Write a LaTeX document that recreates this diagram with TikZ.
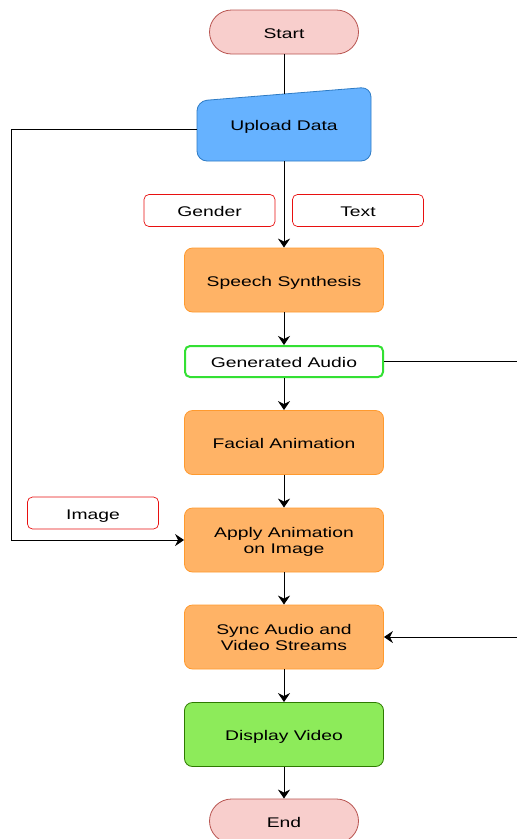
\documentclass[tikz,border=0pt]{standalone}
\usepackage{fontspec}
\setmainfont{Liberation Sans}[FakeStretch=1.38]
\usetikzlibrary{arrows.meta}
\definecolor{termF}{HTML}{F8CECC}
\definecolor{termB}{HTML}{B85450}
\definecolor{upF}{HTML}{66B2FF}
\definecolor{upB}{HTML}{2E7BC4}
\definecolor{orF}{HTML}{FFB366}
\definecolor{orB}{HTML}{FF9A2E}
\definecolor{gnB}{HTML}{33E033}
\definecolor{dvF}{HTML}{8DEB5A}
\definecolor{dvB}{HTML}{2D7A00}
\definecolor{lblB}{HTML}{E81010}
\tikzset{
  txt/.style={font=\fontsize{14}{16}\selectfont, align=center, text=black, text height=12pt, text depth=0pt},
  twoline/.style={text height=, text depth=0pt},
  term/.style={txt, rectangle, rounded corners=22pt, minimum width=149pt, minimum height=44pt, draw=termB, fill=termF, line width=0.8pt},
  procbox/.style={txt, rectangle, rounded corners=8pt, minimum width=199pt, minimum height=64pt, draw=orB, fill=orF, line width=0.8pt},
  lblbox/.style={txt, rectangle, rounded corners=5pt, minimum width=131pt, minimum height=32pt, draw=lblB, fill=white, line width=0.7pt},
  arr/.style={-{Stealth[length=9pt,width=12pt,inset=3pt]}, line width=1pt},
  conn/.style={line width=1pt}
}
\begin{document}
\begin{tikzpicture}[x=1pt,y=-1pt]
\useasboundingbox (0,0) rectangle (517,839);
% Upload Data manual-input shape
\draw[draw=upB, fill=upF, line width=0.8pt, rounded corners=10pt]
  (197,101) -- (371,87) -- (371,161) -- (197,161) -- cycle;
\node[txt] (upload) at (284,124) {Upload Data};
\coordinate (uptop) at (284,94);
\coordinate (upbot) at (284,161);
\coordinate (upleft) at (197,129);

\node[term] (start) at (284,32) {Start};
\node[lblbox] (gender) at (209.5,210.5) {Gender};
\node[lblbox] (textl) at (358,210.5) {Text};
\node[procbox] (speech) at (284,280) {Speech Synthesis};
\node[txt, rectangle, rounded corners=5pt, minimum width=198pt, minimum height=31pt, draw=gnB, fill=white, line width=2pt] (gen) at (284,361.5) {Generated Audio};
\node[procbox] (facial) at (284,442.5) {Facial Animation};
\node[lblbox] (image) at (93,513) {Image};
\node[procbox, twoline] (apply) at (284,540) {Apply Animation\\on Image};
\node[procbox, twoline] (sync) at (284,637) {Sync Audio and\\Video Streams};
\node[procbox, draw=dvB, fill=dvF] (display) at (284,734.5) {Display Video};
\node[term] (end) at (284,821) {End};

\coordinate (rightx) at (520,0);
\coordinate (leftx) at (11,0);

\draw[conn] (start.south) -- (uptop);
\draw[arr] (upbot) -- (speech.north);
\draw[arr] (speech.south) -- (gen.north);
\draw[arr] (gen.south) -- (facial.north);
\draw[arr] (facial.south) -- (apply.north);
\draw[arr] (apply.south) -- (sync.north);
\draw[arr] (sync.south) -- (display.north);
\draw[arr] (display.south) -- (end.north);
\draw[arr] (upleft) -- (upleft -| leftx) |- (apply.west);
\draw[arr] (gen.east) -- (gen.east -| rightx) |- (sync.east);
\end{tikzpicture}
\end{document}
